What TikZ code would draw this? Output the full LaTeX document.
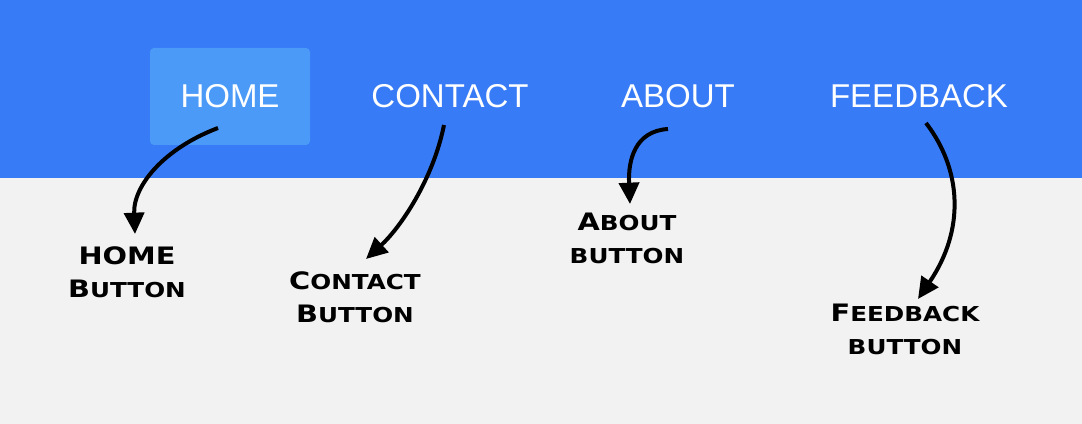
\documentclass[tikz,border=0pt]{standalone}
\usepackage{fontspec}
\usetikzlibrary{arrows.meta}
\newfontfamily\navfont{Liberation Sans}
\newfontfamily\capfont[FakeStretch=1.2]{DejaVu Sans}
\definecolor{navblue}{HTML}{377BF6}
\definecolor{homeblue}{HTML}{4B9AF8}
\definecolor{pagegray}{HTML}{F2F2F2}
\newcommand{\smc}[1]{{\fontsize{15.4}{24.75}\selectfont #1}}
\begin{document}
\begin{tikzpicture}[x=0.75pt, y=-0.75pt,
	nav/.style = {text=white, inner sep=0pt, font=\navfont\fontsize{24.75}{30}\selectfont},
	lab/.style = {align=center, inner sep=0pt, font=\capfont\bfseries\fontsize{18}{24.75}\selectfont},
	pointer/.style = {line width=3pt, -{Triangle[length=16pt,width=15pt]}}]
	\useasboundingbox (0,0) rectangle (1082,424);
	\fill[pagegray] (0,0) rectangle (1082,424);
	\fill[navblue] (0,0) rectangle (1082,178);

	\node[nav, fill=homeblue, rounded corners=3pt, minimum width=120pt, minimum height=72.75pt] (home) at (230,96.5) {HOME};
	\node[nav] (contact) at (450,96) {CONTACT};
	\node[nav] (about) at (678,96) {ABOUT};
	\node[nav] (feedback) at (919,96) {FEEDBACK};

	\node[lab] (lhome) at (127,272.5) {HOME\\B\smc{UTTON}};
	\node[lab] (lcontact) at (355,297.5) {C\smc{ONTACT}\\B\smc{UTTON}};
	\node[lab] (labout) at (627,238) {A\smc{BOUT}\\\smc{BUTTON}};
	\node[lab] (lfeedback) at (905,329.5) {F\smc{EEDBACK}\\\smc{BUTTON}};

	\coordinate (h0) at (218,128);  \coordinate (h1) at (135,234);
	\coordinate (c0) at (444,125);  \coordinate (c1) at (366,259);
	\coordinate (a0) at (668,129);  \coordinate (a1) at (630,204);
	\coordinate (f0) at (926,123);  \coordinate (f1) at (918,299);

	\draw[pointer] (h0) .. controls (165,148) and (133,185) .. (h1);
	\draw[pointer] (c0) .. controls (433,180) and (400,228) .. (c1);
	\draw[pointer] (a0) .. controls (635,131) and (628,160) .. (a1);
	\draw[pointer] (f0) .. controls (962,170) and (965,230) .. (f1);
\end{tikzpicture}
\end{document}
